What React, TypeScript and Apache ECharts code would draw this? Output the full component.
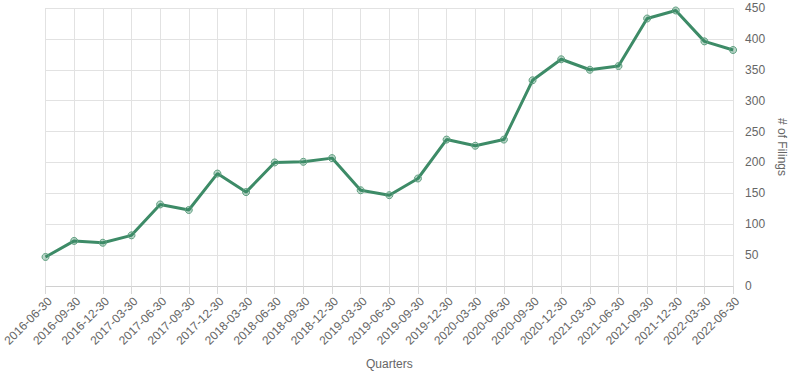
import React, { useEffect, useRef } from "react";
import * as echarts from "echarts";

const quarters = [
  "2016-06-30", "2016-09-30", "2016-12-30", "2017-03-30", "2017-06-30",
  "2017-09-30", "2017-12-30", "2018-03-30", "2018-06-30", "2018-09-30",
  "2018-12-30", "2019-03-30", "2019-06-30", "2019-09-30", "2019-12-30",
  "2020-03-30", "2020-06-30", "2020-09-30", "2020-12-30", "2021-03-30",
  "2021-06-30", "2021-09-30", "2021-12-30", "2022-03-30", "2022-06-30",
];

const filings = [
  47, 73, 70, 82, 132, 123, 182, 152, 200, 201, 207, 155, 147, 174, 237,
  227, 237, 333, 367, 350, 356, 433, 446, 396, 382,
];

export default function App() {
  const ref = useRef<HTMLDivElement>(null);
  useEffect(() => {
    if (!ref.current) return;
    const chart = echarts.init(ref.current, undefined, { renderer: "svg" });
    const font = "'Liberation Sans', Arial, sans-serif";
    chart.setOption({
      animation: false,
      grid: { left: 45, right: 56, top: 8, bottom: 88, containLabel: false },
      xAxis: {
        type: "category",
        data: quarters,
        boundaryGap: false,
        name: "Quarters",
        nameLocation: "middle",
        nameGap: 72,
        nameTextStyle: { color: "#666", fontSize: 12, fontFamily: font },
        axisLine: { show: true, lineStyle: { color: "#d0d0d0" } },
        axisTick: { show: true, length: 8, alignWithLabel: true, lineStyle: { color: "#d8d8d8" } },
        axisLabel: {
          rotate: 45,
          interval: 0,
          color: "#666",
          fontSize: 12,
          fontFamily: font,
          margin: 9,
          verticalAlign: "top",
        },
        splitLine: { show: true, lineStyle: { color: "#e2e2e2" } },
      },
      yAxis: {
        type: "value",
        position: "right",
        min: 0,
        max: 450,
        interval: 50,
        name: "# of Filings",
        nameLocation: "middle",
        nameRotate: -90,
        nameGap: 42,
        nameTextStyle: { color: "#666", fontSize: 12, fontFamily: font },
        axisLine: { show: false },
        axisTick: { show: false },
        axisLabel: { color: "#666", fontSize: 12, fontFamily: font, margin: 12 },
        splitLine: { show: true, lineStyle: { color: "#e2e2e2" } },
      },
      series: [
        {
          type: "line",
          data: filings,
          symbol: "circle",
          symbolSize: 7,
          showAllSymbol: true,
          lineStyle: { color: "#3d8b67", width: 3 },
          itemStyle: {
            color: "rgba(61,139,103,0.35)",
            borderColor: "#5f9f80",
            borderWidth: 1,
          },
        },
      ],
    });
    return () => chart.dispose();
  }, []);
  return (
    <div
      ref={ref}
      style={{ position: "absolute", left: 0, top: 0, width: 796, height: 375 }}
    />
  );
}
